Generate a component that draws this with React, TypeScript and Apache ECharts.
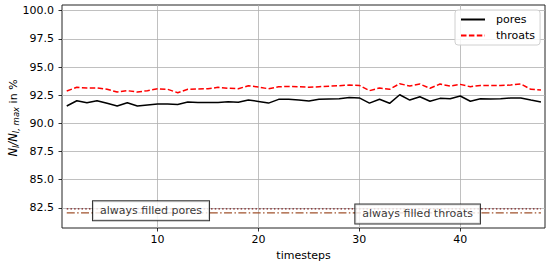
import React, { useEffect, useRef } from "react";
import * as echarts from "echarts";

const timesteps = [
  1, 2, 3, 4, 5, 6, 7, 8, 9, 10, 11, 12, 13, 14, 15, 16, 17, 18, 19, 20, 21, 22, 23, 24,
  25, 26, 27, 28, 29, 30, 31, 32, 33, 34, 35, 36, 37, 38, 39, 40, 41, 42, 43, 44, 45, 46, 47, 48,
];
const pores = [
  91.54, 92.01, 91.83, 92.01, 91.78, 91.54, 91.83, 91.54, 91.63, 91.72, 91.72, 91.68,
  91.9, 91.85, 91.86, 91.86, 91.92, 91.87, 92.07, 91.95, 91.8, 92.13, 92.13, 92.07,
  91.98, 92.13, 92.16, 92.19, 92.3, 92.26, 91.8, 92.14, 91.78, 92.54, 92.07, 92.36,
  91.96, 92.22, 92.19, 92.43, 91.96, 92.19, 92.16, 92.18, 92.25, 92.25, 92.07, 91.9,
];
const throats = [
  92.87, 93.2, 93.14, 93.14, 93.02, 92.78, 92.9, 92.78, 92.9, 93.07, 93.02, 92.72,
  93.02, 93.05, 93.07, 93.2, 93.12, 93.07, 93.34, 93.22, 93.07, 93.25, 93.28, 93.25,
  93.2, 93.25, 93.3, 93.34, 93.4, 93.37, 92.9, 93.14, 93.02, 93.52, 93.31, 93.49,
  93.11, 93.49, 93.31, 93.46, 93.25, 93.37, 93.37, 93.37, 93.4, 93.49, 93.02, 92.96,
];
const alwaysFilledPores = 82.42;
const alwaysFilledThroats = 82.06;
const xTicks = [10, 20, 30, 40];
const yTicks = [82.5, 85, 87.5, 90, 92.5, 95, 97.5, 100];
const annotationTexts = ["always filled pores", "always filled throats"];
const annotationX = [3.6, 29.6];
const annotationY = [82.24, 81.97];

const FONT = "DejaVu Sans";

export default function App() {
  const ref = useRef<HTMLDivElement>(null);
  useEffect(() => {
    if (!ref.current) return;
    const chart = echarts.init(ref.current, undefined, { renderer: "svg" });
    const first = timesteps[0];
    const last = timesteps[timesteps.length - 1];
    chart.setOption({
      animation: false,
      backgroundColor: "#fff",
      textStyle: { fontFamily: FONT },
      grid: {
        left: 62,
        right: 5,
        top: 5,
        bottom: 40,
        show: true,
        borderColor: "#222",
        borderWidth: 1,
        backgroundColor: "transparent",
        outerBoundsMode: "none",
      },
      graphic: [
        {
          type: "text",
          x: 13,
          y: 118,
          rotation: Math.PI / 2,
          style: {
            text: "{n|N}{s|l}{n|/N}{s|l, max}{t| in %}",
            align: "center",
            verticalAlign: "middle",
            fill: "#000",
            fontFamily: FONT,
            fontSize: 11,
            rich: {
              n: { fontSize: 11.5, fontStyle: "italic", fontFamily: FONT, fill: "#000" },
              s: {
                fontSize: 8.5,
                fontStyle: "italic",
                fontFamily: FONT,
                fill: "#000",
                padding: [6, 0, 0, 0],
              },
              t: { fontSize: 11, fontFamily: FONT, fill: "#000" },
            },
          },
        },
      ],
      legend: {
        data: ["pores", "throats"],
        orient: "vertical",
        left: 455,
        top: 10,
        itemWidth: 24,
        itemHeight: 12,
        itemGap: 5,
        padding: [4, 5, 4, 5],
        borderColor: "#d0d0d0",
        borderWidth: 1,
        borderRadius: 3,
        backgroundColor: "rgba(255,255,255,0.85)",
        itemStyle: { opacity: 0, borderWidth: 0 },
        textStyle: { fontSize: 11, color: "#000", fontFamily: FONT, padding: [0, 0, 0, 6] },
      },
      xAxis: {
        type: "value",
        min: 0.53,
        max: 48.4,
        name: "timesteps",
        nameLocation: "middle",
        nameGap: 22,
        nameTextStyle: { fontSize: 11, color: "#000", fontFamily: FONT },
        axisLine: { show: false },
        axisTick: {
          show: true,
          customValues: xTicks,
          length: 3.5,
          lineStyle: { color: "#000", width: 0.8 },
        },
        axisLabel: {
          customValues: xTicks,
          margin: 6,
          fontSize: 11,
          color: "#000",
          fontFamily: FONT,
        },
        splitLine: { show: true, lineStyle: { color: "#b0b0b0", width: 0.8 } },
      },
      yAxis: {
        type: "value",
        min: 80.72,
        max: 100.5,
        axisLine: { show: false },
        axisTick: {
          show: true,
          customValues: yTicks,
          length: 3.5,
          lineStyle: { color: "#000", width: 0.8 },
        },
        axisLabel: {
          customValues: yTicks,
          margin: 8,
          fontSize: 11,
          color: "#000",
          fontFamily: FONT,
          formatter: (v: number) => v.toFixed(1),
        },
        splitLine: { show: true, lineStyle: { color: "#b0b0b0", width: 0.8 } },
      },
      series: [
        {
          name: "pores",
          type: "line",
          data: timesteps.map((t, i) => [t, pores[i]]),
          symbol: "none",
          color: "#000",
          lineStyle: { color: "#000", width: 1.5 },
          z: 5,
        },
        {
          name: "throats",
          type: "line",
          data: timesteps.map((t, i) => [t, throats[i]]),
          symbol: "none",
          color: "#ff0000",
          lineStyle: { color: "#ff0000", width: 1.5, type: [5.5, 2.4] },
          z: 5,
        },
        {
          name: "always filled pores line",
          type: "line",
          data: [
            [first, alwaysFilledPores],
            [last, alwaysFilledPores],
          ],
          symbol: "none",
          color: "#7a1a1a",
          lineStyle: { color: "#7a1a1a", width: 1.3, type: [1.5, 2.2] },
          z: 3,
        },
        {
          name: "always filled throats line",
          type: "line",
          data: [
            [first, alwaysFilledThroats],
            [last, alwaysFilledThroats],
          ],
          symbol: "none",
          color: "#a0522d",
          lineStyle: { color: "#a0522d", width: 1.3, type: [8, 2.4, 1.5, 2.4] },
          z: 3,
        },
        {
          name: "annotations",
          type: "scatter",
          silent: true,
          symbolSize: 0,
          z: 10,
          data: annotationTexts.map((txt, i) => ({
            name: txt,
            value: [annotationX[i], annotationY[i]],
          })),
          label: {
            show: true,
            formatter: "{b}",
            position: "right",
            distance: 0,
            backgroundColor: "#fff",
            borderColor: "#000",
            borderWidth: 1,
            padding: [4, 7, 4, 7],
            fontSize: 11,
            color: "#000",
            fontFamily: FONT,
          },
        },
      ],
    });
    return () => chart.dispose();
  }, []);
  return (
    <div
      ref={ref}
      style={{ position: "fixed", left: 0, top: 0, width: 550, height: 268 }}
    />
  );
}
